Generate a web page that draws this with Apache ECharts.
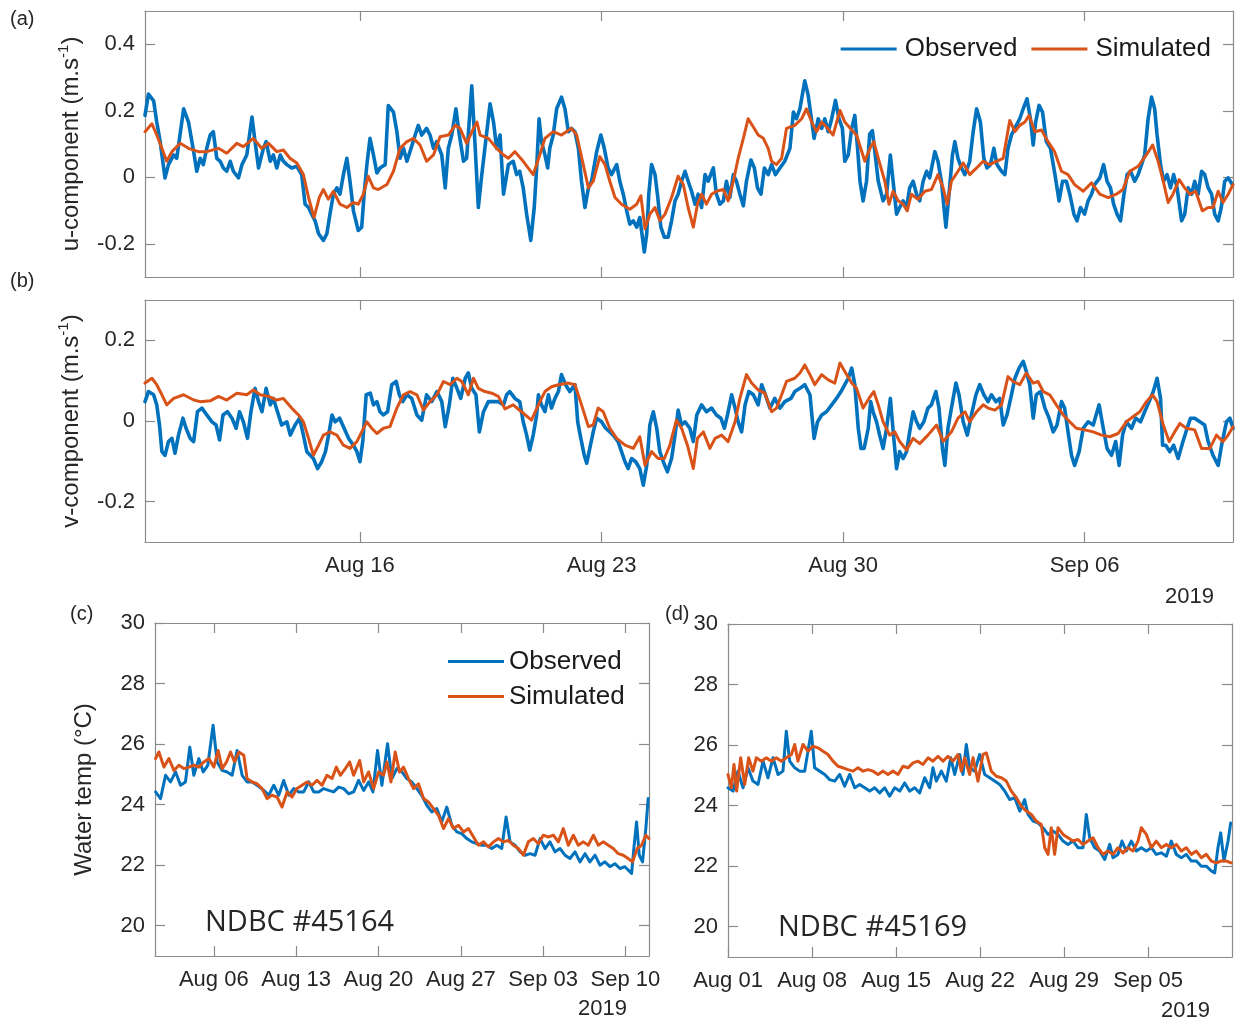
<!DOCTYPE html>
<html>
<head>
<meta charset="utf-8">
<title>Currents and water temperature, observed vs simulated (2019)</title>
<script src="https://cdn.jsdelivr.net/npm/echarts@6/dist/echarts.min.js"></script>
<style>
  html, body { margin: 0; padding: 0; background: #ffffff; }
  #chart { width: 1236px; height: 1024px; }
</style>
</head>
<body>
<div id="chart"></div>
<script>
// Time is expressed in days since 2019-08-01 00:00; each point is [day, value].

// (a) u-component of the current, m/s
const uObserved = [
  [8.77,0.186],[8.87,0.25],[9.02,0.23],[9.11,0.166],[9.21,0.107],[9.35,-0.002],[9.45,0.038],[9.60,0.067],[9.69,0.057],[9.89,0.206],
  [10.03,0.166],[10.18,0.077],[10.27,0.018],[10.37,0.057],[10.46,0.038],[10.56,0.087],[10.66,0.127],[10.75,0.137],[10.85,0.057],[10.95,0.048],
  [11.04,0.028],[11.14,0.018],[11.24,0.048],[11.33,0.018],[11.48,-0.002],[11.58,0.038],[11.72,0.067],[11.87,0.181],[11.96,0.107],[12.06,0.028],
  [12.20,0.087],[12.28,0.107],[12.40,0.048],[12.49,0.067],[12.59,0.028],[12.69,0.067],[12.78,0.048],[12.88,0.038],[13.02,0.028],[13.17,0.033],
  [13.31,0.008],[13.41,-0.081],[13.51,-0.091],[13.60,-0.111],[13.70,-0.131],[13.80,-0.170],[13.94,-0.190],[14.04,-0.170],[14.13,-0.111],[14.23,-0.051],
  [14.33,-0.032],[14.42,-0.051],[14.52,0.008],[14.62,0.057],[14.71,-0.012],[14.81,-0.101],[14.95,-0.160],[15.05,-0.150],[15.12,-0.051],[15.20,0.038],
  [15.29,0.117],[15.39,0.067],[15.49,0.013],[15.58,0.028],[15.73,0.038],[15.82,0.216],[15.97,0.196],[16.07,0.137],[16.16,0.057],[16.26,0.087],
  [16.36,0.048],[16.45,0.077],[16.60,0.127],[16.69,0.156],[16.79,0.127],[16.93,0.147],[17.03,0.127],[17.13,0.087],[17.22,0.107],[17.37,0.067],
  [17.47,-0.032],[17.56,0.087],[17.66,0.127],[17.78,0.206],[17.88,0.127],[18.00,0.048],[18.09,0.057],[18.24,0.275],[18.34,0.087],[18.43,-0.091],
  [18.53,0.008],[18.62,0.087],[18.77,0.221],[18.87,0.166],[18.96,0.087],[19.06,0.127],[19.16,-0.051],[19.30,0.038],[19.44,0.048],[19.54,0.008],
  [19.63,0.018],[19.73,-0.032],[19.83,-0.111],[19.95,-0.190],[20.05,-0.091],[20.12,0.028],[20.19,0.176],[20.26,0.107],[20.36,0.067],[20.44,0.028],
  [20.50,0.087],[20.60,0.127],[20.70,0.206],[20.84,0.241],[20.94,0.206],[21.04,0.137],[21.13,0.147],[21.23,0.137],[21.33,0.087],[21.42,-0.012],
  [21.52,-0.091],[21.62,-0.032],[21.71,-0.012],[21.86,0.077],[21.98,0.127],[22.08,0.087],[22.19,0.028],[22.29,0.008],[22.44,0.038],[22.53,-0.012],
  [22.63,-0.051],[22.73,-0.101],[22.82,-0.141],[22.92,-0.131],[23.02,-0.150],[23.11,-0.121],[23.24,-0.225],[23.31,-0.170],[23.37,-0.051],[23.45,0.038],
  [23.55,0.008],[23.62,-0.051],[23.72,-0.150],[23.82,-0.180],[23.93,-0.180],[24.03,-0.131],[24.13,-0.071],[24.22,-0.051],[24.32,-0.012],[24.42,0.018],
  [24.51,-0.012],[24.61,-0.042],[24.71,-0.081],[24.80,-0.051],[24.90,-0.091],[25.00,0.008],[25.09,-0.012],[25.24,0.028],[25.33,-0.051],[25.43,-0.081],
  [25.53,-0.071],[25.62,-0.012],[25.72,-0.061],[25.82,0.008],[25.91,-0.012],[26.01,-0.051],[26.11,-0.086],[26.20,-0.012],[26.33,0.052],[26.43,0.028],
  [26.52,-0.032],[26.62,-0.051],[26.72,0.028],[26.83,0.008],[26.93,0.038],[27.04,0.008],[27.17,0.028],[27.31,0.048],[27.46,0.087],[27.56,0.196],
  [27.65,0.176],[27.75,0.206],[27.89,0.290],[27.99,0.246],[28.07,0.186],[28.16,0.117],[28.28,0.176],[28.38,0.147],[28.47,0.176],[28.57,0.137],
  [28.67,0.176],[28.78,0.231],[28.88,0.176],[28.98,0.147],[29.05,0.048],[29.15,0.067],[29.25,0.147],[29.34,0.186],[29.42,0.087],[29.49,-0.012],
  [29.58,-0.071],[29.68,-0.012],[29.77,0.130],[29.85,0.140],[29.92,0.077],[30.02,-0.012],[30.16,-0.071],[30.26,-0.051],[30.37,0.067],[30.45,-0.012],
  [30.55,-0.111],[30.64,-0.091],[30.74,-0.071],[30.84,-0.091],[30.93,-0.032],[31.03,-0.012],[31.13,-0.051],[31.22,-0.071],[31.32,-0.012],[31.42,0.018],
  [31.51,-0.002],[31.66,0.077],[31.75,0.048],[31.85,-0.012],[31.98,-0.150],[32.07,-0.051],[32.17,0.067],[32.24,0.107],[32.33,0.057],[32.43,0.028],
  [32.53,0.008],[32.67,0.048],[32.77,0.137],[32.87,0.206],[32.98,0.166],[33.08,0.057],[33.17,0.028],[33.27,0.038],[33.37,0.087],[33.46,0.038],
  [33.59,0.018],[33.69,0.008],[33.78,0.087],[33.88,0.127],[34.02,0.156],[34.12,0.176],[34.22,0.206],[34.33,0.236],[34.43,0.176],[34.51,0.097],
  [34.58,0.166],[34.68,0.216],[34.78,0.196],[34.89,0.107],[35.01,0.087],[35.14,0.008],[35.26,-0.071],[35.36,-0.012],[35.47,-0.012],[35.57,-0.051],
  [35.69,-0.111],[35.78,-0.131],[35.88,-0.091],[36.00,-0.111],[36.10,-0.071],[36.20,-0.051],[36.29,-0.022],[36.44,-0.002],[36.55,0.038],[36.65,-0.012],
  [36.75,-0.032],[36.84,-0.081],[36.94,-0.111],[37.04,-0.131],[37.14,-0.051],[37.23,0.008],[37.33,0.018],[37.45,-0.012],[37.55,0.008],[37.65,0.038],
  [37.74,0.067],[37.84,0.176],[37.94,0.241],[38.03,0.206],[38.10,0.127],[38.20,0.038],[38.29,-0.012],[38.39,0.008],[38.49,-0.032],[38.58,0.008],
  [38.68,-0.032],[38.81,-0.131],[38.90,-0.111],[39.00,-0.032],[39.10,-0.051],[39.19,-0.012],[39.29,-0.051],[39.39,0.018],[39.48,0.008],[39.58,-0.032],
  [39.68,-0.051],[39.77,-0.111],[39.87,-0.131],[39.96,-0.091],[40.06,-0.012],[40.16,-0.002],[40.28,-0.022]
];
const uSimulated = [
  [8.77,0.137],[8.97,0.161],[9.11,0.127],[9.26,0.087],[9.40,0.048],[9.55,0.077],[9.79,0.102],[10.03,0.087],[10.32,0.077],[10.56,0.077],
  [10.90,0.087],[11.14,0.072],[11.43,0.102],[11.62,0.092],[11.91,0.117],[12.15,0.087],[12.35,0.102],[12.59,0.077],[12.78,0.082],[12.97,0.057],
  [13.17,0.043],[13.36,0.008],[13.51,-0.061],[13.67,-0.121],[13.82,-0.061],[13.94,-0.037],[14.08,-0.066],[14.23,-0.042],[14.42,-0.081],[14.62,-0.091],
  [14.81,-0.076],[14.95,-0.081],[15.10,-0.051],[15.24,0.003],[15.39,-0.032],[15.53,-0.037],[15.78,-0.022],[15.97,0.018],[16.16,0.087],[16.36,0.107],
  [16.55,0.117],[16.74,0.097],[16.93,0.048],[17.13,0.067],[17.32,0.122],[17.56,0.127],[17.76,0.156],[17.90,0.147],[18.09,0.102],[18.29,0.147],
  [18.39,0.166],[18.48,0.127],[18.72,0.117],[18.96,0.087],[19.16,0.067],[19.30,0.057],[19.49,0.077],[19.73,0.048],[20.02,0.008],[20.21,0.067],
  [20.36,0.117],[20.60,0.137],[20.84,0.127],[21.13,0.147],[21.28,0.127],[21.47,0.038],[21.62,-0.032],[21.76,-0.012],[21.95,0.062],[22.10,0.038],
  [22.24,-0.012],[22.39,-0.061],[22.58,-0.081],[22.82,-0.096],[23.02,-0.081],[23.14,-0.056],[23.26,-0.155],[23.40,-0.111],[23.55,-0.091],[23.69,-0.131],
  [23.84,-0.111],[24.03,-0.061],[24.22,0.003],[24.37,-0.022],[24.51,-0.091],[24.66,-0.150],[24.78,-0.081],[24.90,-0.051],[25.04,-0.081],[25.19,-0.051],
  [25.33,-0.042],[25.53,-0.037],[25.67,-0.071],[25.82,-0.012],[25.96,0.057],[26.11,0.117],[26.25,0.176],[26.40,0.151],[26.54,0.127],[26.69,0.117],
  [26.83,0.087],[26.93,0.048],[27.07,0.038],[27.22,0.057],[27.36,0.147],[27.60,0.156],[27.80,0.176],[27.94,0.206],[28.09,0.166],[28.23,0.137],
  [28.38,0.166],[28.52,0.151],[28.71,0.127],[28.91,0.201],[29.05,0.166],[29.25,0.142],[29.39,0.127],[29.63,0.048],[29.78,0.087],[29.89,0.107],
  [30.02,0.057],[30.21,-0.012],[30.33,-0.081],[30.45,-0.042],[30.60,-0.071],[30.74,-0.081],[30.86,-0.101],[30.98,-0.051],[31.17,-0.066],[31.37,-0.042],
  [31.56,-0.037],[31.75,0.008],[31.90,-0.032],[32.02,-0.081],[32.14,-0.012],[32.33,0.018],[32.48,0.043],[32.67,0.008],[32.87,0.028],[33.06,0.048],
  [33.25,0.038],[33.44,0.048],[33.64,0.057],[33.83,0.171],[33.98,0.137],[34.12,0.156],[34.27,0.166],[34.39,0.186],[34.56,0.137],[34.75,0.142],
  [34.94,0.107],[35.13,0.077],[35.33,0.018],[35.52,0.008],[35.71,-0.022],[35.96,-0.042],[36.20,-0.017],[36.44,-0.051],[36.68,-0.061],[36.92,-0.051],
  [37.11,-0.037],[37.31,0.018],[37.55,0.033],[37.79,0.067],[37.97,0.097],[38.13,0.048],[38.28,-0.012],[38.42,-0.076],[38.56,-0.051],[38.74,-0.007],
  [38.90,-0.032],[39.05,-0.051],[39.22,-0.042],[39.41,-0.101],[39.58,-0.091],[39.72,-0.091],[39.87,-0.042],[40.01,-0.076],[40.16,-0.051],[40.30,-0.022]
];

// (b) v-component of the current, m/s
const vObserved = [
  [8.77,0.048],[8.87,0.073],[9.02,0.065],[9.11,0.040],[9.19,-0.010],[9.26,-0.076],[9.35,-0.085],[9.45,-0.051],[9.55,-0.043],[9.64,-0.080],
  [9.74,-0.035],[9.87,0.007],[9.96,-0.018],[10.08,-0.043],[10.18,-0.051],[10.29,0.023],[10.42,0.032],[10.56,0.015],[10.71,-0.002],[10.83,-0.010],
  [10.93,-0.047],[11.03,0.015],[11.16,0.023],[11.29,0.007],[11.41,-0.018],[11.51,0.023],[11.62,-0.002],[11.74,-0.043],[11.84,0.023],[11.96,0.081],
  [12.06,0.048],[12.16,0.023],[12.28,0.081],[12.40,0.040],[12.49,0.056],[12.61,0.023],[12.73,-0.010],[12.88,-0.002],[12.98,-0.035],[13.12,-0.010],
  [13.25,0.007],[13.36,-0.035],[13.46,-0.076],[13.56,-0.085],[13.65,-0.093],[13.77,-0.118],[13.89,-0.101],[14.00,-0.076],[14.09,-0.035],[14.19,0.015],
  [14.28,-0.002],[14.41,0.007],[14.54,-0.018],[14.67,-0.043],[14.81,-0.060],[14.91,-0.076],[15.00,-0.101],[15.08,-0.051],[15.18,0.065],[15.30,0.069],
  [15.39,0.040],[15.49,0.048],[15.58,0.023],[15.68,0.015],[15.80,0.023],[15.92,0.090],[16.05,0.098],[16.14,0.065],[16.24,0.048],[16.36,0.065],
  [16.50,0.056],[16.65,0.015],[16.79,0.002],[16.93,0.065],[17.08,0.048],[17.23,0.073],[17.37,0.048],[17.47,-0.014],[17.59,0.040],[17.69,0.106],
  [17.81,0.081],[17.92,0.056],[18.05,0.106],[18.14,0.119],[18.24,0.081],[18.36,0.065],[18.46,-0.027],[18.58,0.023],[18.72,0.048],[18.87,0.048],
  [19.01,0.048],[19.16,0.040],[19.25,0.065],[19.34,0.073],[19.49,0.056],[19.63,0.048],[19.73,-0.002],[19.83,-0.035],[19.92,-0.072],[20.02,-0.035],
  [20.12,0.015],[20.17,0.065],[20.26,0.040],[20.36,0.023],[20.46,0.065],[20.55,0.032],[20.65,0.056],[20.75,0.073],[20.84,0.115],[20.96,0.090],
  [21.08,0.073],[21.23,0.090],[21.31,-0.002],[21.40,-0.043],[21.50,-0.085],[21.57,-0.105],[21.66,-0.068],[21.76,-0.027],[21.86,0.007],[22.00,-0.002],
  [22.12,-0.018],[22.24,-0.027],[22.34,-0.035],[22.48,-0.051],[22.58,-0.076],[22.68,-0.101],[22.77,-0.118],[22.87,-0.093],[22.99,-0.101],[23.11,-0.118],
  [23.21,-0.159],[23.31,-0.110],[23.40,-0.010],[23.50,0.023],[23.60,-0.018],[23.69,-0.076],[23.79,-0.101],[23.91,-0.126],[24.03,-0.093],[24.13,-0.035],
  [24.22,0.027],[24.32,-0.010],[24.42,-0.002],[24.56,-0.018],[24.66,-0.051],[24.76,0.015],[24.90,0.040],[25.04,0.023],[25.19,0.032],[25.33,0.015],
  [25.46,0.007],[25.56,-0.018],[25.65,0.015],[25.77,0.065],[25.87,0.032],[25.96,-0.002],[26.06,-0.027],[26.16,0.040],[26.27,0.073],[26.40,0.065],
  [26.54,0.040],[26.64,0.090],[26.75,0.065],[26.88,0.032],[27.02,0.056],[27.17,0.032],[27.31,0.048],[27.49,0.056],[27.60,0.073],[27.75,0.081],
  [27.89,0.090],[28.04,0.065],[28.16,-0.043],[28.26,-0.002],[28.38,0.015],[28.52,0.023],[28.67,0.040],[28.81,0.056],[28.94,0.073],[29.05,0.090],
  [29.15,0.106],[29.25,0.131],[29.34,0.090],[29.44,-0.018],[29.52,-0.068],[29.61,-0.068],[29.73,-0.018],[29.80,0.048],[29.87,0.023],[29.97,-0.002],
  [30.06,-0.035],[30.16,-0.068],[30.26,-0.018],[30.37,0.056],[30.47,-0.043],[30.55,-0.118],[30.64,-0.076],[30.74,-0.093],[30.84,-0.076],[30.93,-0.027],
  [31.03,0.023],[31.13,-0.002],[31.22,-0.018],[31.34,-0.002],[31.46,0.032],[31.56,0.040],[31.69,0.073],[31.78,0.032],[31.88,-0.068],[31.95,-0.110],
  [32.04,-0.018],[32.14,0.032],[32.27,0.094],[32.36,0.065],[32.48,-0.002],[32.60,-0.035],[32.72,0.015],[32.85,0.065],[32.96,0.090],[33.08,0.065],
  [33.20,0.048],[33.30,0.065],[33.43,0.048],[33.54,0.056],[33.64,-0.010],[33.75,0.015],[33.88,0.065],[33.98,0.106],[34.10,0.131],[34.22,0.148],
  [34.31,0.123],[34.41,0.090],[34.51,0.007],[34.60,0.065],[34.72,0.073],[34.85,0.032],[34.97,0.007],[35.09,-0.027],[35.20,-0.010],[35.33,0.048],
  [35.42,0.032],[35.52,-0.027],[35.62,-0.085],[35.71,-0.110],[35.84,-0.076],[35.96,-0.018],[36.10,-0.002],[36.25,-0.010],[36.42,0.040],[36.54,-0.018],
  [36.65,-0.068],[36.78,-0.085],[36.90,-0.051],[37.00,-0.110],[37.10,-0.035],[37.21,-0.002],[37.36,-0.018],[37.48,0.007],[37.62,-0.002],[37.74,0.023],
  [37.87,0.048],[37.99,0.073],[38.10,0.106],[38.20,0.056],[38.26,-0.060],[38.35,-0.060],[38.47,-0.076],[38.58,-0.060],[38.71,-0.093],[38.85,-0.051],
  [38.97,-0.018],[39.07,0.007],[39.19,0.007],[39.34,-0.002],[39.48,-0.010],[39.58,-0.051],[39.72,-0.085],[39.87,-0.110],[39.97,-0.060],[40.11,-0.002],
  [40.21,0.007],[40.30,-0.018]
];
const vSimulated = [
  [8.77,0.094],[8.97,0.106],[9.11,0.090],[9.26,0.065],[9.40,0.040],[9.60,0.056],[9.89,0.065],[10.18,0.052],[10.37,0.048],[10.66,0.050],
  [10.90,0.061],[11.14,0.052],[11.43,0.069],[11.72,0.065],[11.91,0.077],[12.11,0.065],[12.35,0.061],[12.59,0.052],[12.78,0.056],[13.02,0.032],
  [13.22,0.015],[13.36,-0.002],[13.51,-0.043],[13.65,-0.085],[13.80,-0.060],[13.94,-0.035],[14.13,-0.027],[14.33,-0.035],[14.52,-0.060],[14.71,-0.068],
  [14.91,-0.051],[15.05,-0.027],[15.20,-0.002],[15.34,-0.018],[15.49,-0.031],[15.68,-0.018],[15.87,-0.014],[16.07,0.032],[16.26,0.065],[16.45,0.073],
  [16.65,0.065],[16.84,0.027],[17.03,0.048],[17.23,0.065],[17.42,0.098],[17.61,0.090],[17.81,0.106],[17.95,0.098],[18.14,0.065],[18.29,0.106],
  [18.43,0.081],[18.62,0.073],[18.82,0.069],[19.01,0.061],[19.20,0.030],[19.44,0.040],[19.68,0.023],[19.97,0.002],[20.17,0.040],[20.36,0.073],
  [20.55,0.085],[20.75,0.090],[21.04,0.094],[21.23,0.090],[21.42,0.040],[21.62,-0.014],[21.76,-0.010],[21.90,0.032],[22.05,0.023],[22.24,-0.018],
  [22.44,-0.043],[22.68,-0.060],[22.92,-0.068],[23.11,-0.039],[23.26,-0.110],[23.45,-0.076],[23.64,-0.093],[23.82,-0.093],[23.98,-0.060],[24.17,0.002],
  [24.32,-0.018],[24.49,-0.060],[24.66,-0.118],[24.78,-0.043],[24.95,-0.027],[25.14,-0.068],[25.29,-0.043],[25.48,-0.035],[25.67,-0.051],[25.87,-0.002],
  [26.01,0.056],[26.20,0.115],[26.35,0.094],[26.54,0.077],[26.73,0.069],[26.93,0.023],[27.07,0.032],[27.22,0.065],[27.36,0.098],[27.60,0.106],
  [27.75,0.119],[27.89,0.139],[28.04,0.115],[28.18,0.090],[28.38,0.115],[28.57,0.102],[28.76,0.094],[28.91,0.144],[29.05,0.123],[29.25,0.094],
  [29.39,0.081],[29.58,0.032],[29.75,0.056],[29.89,0.073],[30.02,0.040],[30.16,-0.002],[30.35,-0.035],[30.50,-0.027],[30.64,-0.051],[30.84,-0.072],
  [31.03,-0.043],[31.22,-0.056],[31.46,-0.035],[31.71,-0.010],[31.90,-0.051],[32.14,-0.027],[32.33,0.007],[32.53,0.023],[32.67,-0.002],[32.87,0.023],
  [33.06,0.040],[33.20,0.032],[33.40,0.027],[33.59,0.040],[33.78,0.110],[33.93,0.098],[34.12,0.090],[34.31,0.119],[34.51,0.094],[34.65,0.098],
  [34.80,0.073],[34.99,0.065],[35.18,0.040],[35.38,0.015],[35.57,-0.002],[35.76,-0.018],[36.00,-0.022],[36.25,-0.027],[36.49,-0.035],[36.73,-0.039],
  [36.97,-0.031],[37.21,-0.002],[37.41,0.011],[37.60,0.023],[37.79,0.048],[37.97,0.065],[38.10,0.048],[38.28,-0.010],[38.45,-0.051],[38.61,-0.027],
  [38.76,-0.006],[38.95,-0.018],[39.19,-0.022],[39.39,-0.068],[39.63,-0.068],[39.82,-0.035],[40.01,-0.051],[40.16,-0.035],[40.30,-0.014]
];

// (c) water temperature at NDBC #45164, deg C
const tempObserved45164 = [
  [0.05,24.42],[0.47,24.20],[0.90,24.97],[1.32,24.75],[1.75,25.08],[2.17,24.64],[2.59,24.75],[2.96,25.90],[3.30,24.97],[3.73,25.52],
  [4.10,25.08],[4.49,25.30],[4.94,26.62],[5.28,25.41],[5.71,25.13],[6.13,25.08],[6.56,24.97],[6.98,25.79],[7.41,24.97],[7.83,24.75],
  [8.25,24.75],[8.68,24.64],[9.25,24.47],[9.67,24.31],[10.10,24.64],[10.52,24.31],[10.94,24.80],[11.37,24.31],[11.79,24.53],[12.22,24.42],
  [12.64,24.42],[13.07,24.75],[13.49,24.42],[13.92,24.42],[14.34,24.53],[14.77,24.47],[15.19,24.42],[15.61,24.58],[16.04,24.53],[16.46,24.36],
  [16.89,24.42],[17.31,24.80],[17.74,24.47],[18.16,24.75],[18.53,24.42],[18.92,25.79],[19.29,24.64],[19.77,26.01],[20.14,24.86],[20.56,25.19],
  [20.99,25.08],[21.41,24.86],[21.83,24.75],[22.26,24.53],[22.68,24.31],[23.11,23.98],[23.53,23.76],[23.96,23.87],[24.38,23.43],[24.81,23.92],
  [25.23,23.32],[25.66,23.10],[26.08,23.04],[26.51,22.88],[26.93,22.77],[27.36,22.71],[27.78,22.66],[28.21,22.66],[28.63,22.55],[29.06,22.66],
  [29.48,22.55],[29.85,23.59],[30.19,22.77],[30.61,22.66],[31.04,22.44],[31.46,22.33],[31.89,22.38],[32.31,22.33],[32.74,22.88],[33.16,22.55],
  [33.58,22.77],[34.01,22.44],[34.43,22.55],[34.86,22.33],[35.28,22.22],[35.71,22.44],[36.13,22.11],[36.56,22.38],[36.98,22.11],[37.41,22.33],
  [37.83,22.00],[38.25,22.11],[38.68,21.95],[39.10,22.05],[39.53,21.89],[39.95,21.95],[40.52,21.73],[40.71,22.55],[40.94,23.43],[41.17,22.33],
  [41.45,22.11],[41.73,23.21],[41.93,24.20]
];
const tempSimulated45164 = [
  [0.05,25.52],[0.33,25.74],[0.76,25.24],[1.18,25.52],[1.61,25.13],[2.03,25.30],[2.45,25.19],[2.88,25.24],[3.30,25.30],[3.73,25.24],
  [4.15,25.41],[4.58,25.52],[5.00,25.24],[5.37,25.79],[5.71,25.19],[6.08,25.41],[6.42,25.74],[6.76,25.41],[7.12,25.74],[7.55,25.63],
  [7.83,24.86],[8.25,24.75],[8.68,24.69],[9.10,24.53],[9.53,24.20],[9.95,24.31],[10.38,24.25],[10.80,23.92],[11.23,24.42],[11.65,24.25],
  [12.07,24.53],[12.50,24.64],[12.93,24.75],[13.35,24.64],[13.77,24.80],[14.20,24.64],[14.62,24.97],[15.05,24.86],[15.42,25.24],[15.76,24.97],
  [16.18,25.19],[16.55,25.41],[16.89,24.97],[17.40,25.46],[17.74,24.75],[18.16,25.08],[18.59,24.53],[19.01,25.08],[19.43,24.97],[19.72,25.41],
  [20.06,24.75],[20.42,25.74],[20.79,25.08],[21.13,25.24],[21.55,24.86],[21.98,24.53],[22.40,24.69],[22.83,24.20],[23.25,24.09],[23.68,23.87],
  [24.10,23.65],[24.53,23.21],[24.95,23.54],[25.38,23.21],[25.80,23.32],[26.23,23.10],[26.65,23.21],[27.08,22.93],[27.50,22.66],[27.93,22.77],
  [28.35,22.60],[28.78,22.77],[29.20,22.88],[29.62,22.77],[30.05,22.82],[30.47,22.66],[30.89,22.55],[31.32,22.33],[31.74,22.77],[32.17,22.88],
  [32.59,22.71],[33.01,22.99],[33.44,22.93],[33.87,22.99],[34.29,22.77],[34.72,23.21],[35.14,22.66],[35.57,22.99],[35.99,22.66],[36.42,22.77],
  [36.84,22.66],[37.27,22.99],[37.69,22.66],[38.11,22.77],[38.54,22.66],[38.96,22.55],[39.39,22.38],[39.81,22.33],[40.23,22.22],[40.60,22.11],
  [41.00,22.55],[41.37,22.66],[41.73,22.99],[41.99,22.88]
];

// (d) water temperature at NDBC #45169, deg C
const tempObserved45169 = [
  [0.00,24.59],[0.42,24.48],[0.83,25.14],[1.25,24.59],[1.67,25.25],[2.08,24.81],[2.50,24.70],[2.92,25.47],[3.33,24.92],[3.75,25.58],
  [4.17,25.03],[4.58,25.14],[4.86,26.46],[5.14,25.47],[5.56,25.25],[5.97,25.14],[6.39,25.14],[6.94,26.46],[7.22,25.25],[7.64,25.14],
  [8.06,25.03],[8.47,24.86],[8.89,24.81],[9.31,25.03],[9.72,24.64],[10.14,25.03],[10.56,24.59],[10.97,24.70],[11.39,24.59],[11.81,24.48],
  [12.22,24.59],[12.64,24.42],[13.06,24.59],[13.47,24.31],[13.89,24.59],[14.31,24.48],[14.72,24.75],[15.14,24.48],[15.56,24.59],[15.97,24.42],
  [16.39,24.92],[16.81,24.59],[17.08,25.25],[17.36,24.81],[17.78,25.14],[18.19,24.81],[18.56,25.58],[18.89,25.03],[19.31,25.69],[19.58,25.03],
  [19.86,26.02],[20.14,25.25],[20.56,25.14],[20.97,25.69],[21.39,25.03],[21.81,24.92],[22.22,24.81],[22.64,24.70],[23.06,24.48],[23.47,24.20],
  [23.89,24.26],[24.31,23.82],[24.72,24.20],[25.00,23.71],[25.42,23.49],[25.83,23.43],[26.25,23.27],[26.67,23.05],[27.08,23.16],[27.50,23.05],
  [27.92,22.83],[28.33,22.72],[28.75,22.83],[29.17,22.61],[29.58,22.61],[29.86,23.71],[30.14,22.94],[30.56,22.61],[30.97,22.50],[31.39,22.22],
  [31.81,22.72],[32.08,22.28],[32.50,22.39],[32.83,22.83],[33.19,22.50],[33.61,22.83],[34.03,22.50],[34.44,22.61],[34.86,22.50],[35.28,22.61],
  [35.69,22.39],[36.11,22.44],[36.53,22.33],[36.94,22.83],[37.36,22.39],[37.78,22.28],[38.19,22.39],[38.61,22.17],[39.03,22.17],[39.44,22.00],
  [39.86,22.00],[40.28,21.84],[40.56,21.78],[40.83,22.61],[41.06,23.10],[41.33,22.17],[41.67,22.83],[41.89,23.43]
];
const tempSimulated45169 = [
  [0.00,25.03],[0.28,24.59],[0.50,25.36],[0.72,24.48],[1.06,25.58],[1.39,24.70],[1.72,25.58],[2.08,25.14],[2.36,25.58],[2.78,25.47],
  [3.19,25.58],[3.61,25.47],[4.03,25.58],[4.44,25.47],[4.86,25.58],[5.28,25.69],[5.56,26.02],[5.83,25.47],[6.25,26.02],[6.67,25.80],
  [7.08,25.96],[7.50,25.91],[7.92,25.80],[8.33,25.69],[8.75,25.47],[9.17,25.30],[9.58,25.25],[10.00,25.19],[10.42,25.14],[10.83,25.25],
  [11.25,25.14],[11.67,25.19],[12.08,25.14],[12.50,25.03],[12.92,25.14],[13.33,25.03],[13.75,25.14],[14.17,25.03],[14.58,25.30],[15.00,25.25],
  [15.42,25.41],[15.83,25.47],[16.25,25.36],[16.67,25.58],[17.08,25.47],[17.50,25.63],[17.92,25.47],[18.33,25.63],[18.75,25.47],[19.17,25.69],
  [19.44,25.14],[19.72,25.58],[20.14,25.03],[20.42,25.58],[20.83,24.81],[21.25,25.69],[21.53,25.74],[21.94,25.14],[22.36,24.97],[22.78,24.92],
  [23.19,24.81],[23.61,24.48],[24.03,24.26],[24.44,23.98],[24.86,23.82],[25.28,23.71],[25.69,23.49],[26.11,23.38],[26.39,22.61],[26.67,22.39],
  [26.94,23.27],[27.22,22.39],[27.50,23.27],[27.92,23.05],[28.33,22.94],[28.75,22.83],[29.17,22.88],[29.58,22.72],[30.00,22.83],[30.42,22.94],
  [30.83,22.61],[31.25,22.39],[31.67,22.50],[32.08,22.39],[32.50,22.61],[32.92,22.44],[33.33,22.61],[33.75,22.50],[34.17,22.83],[34.44,23.27],
  [34.86,23.05],[35.28,22.61],[35.69,22.83],[36.11,22.61],[36.53,22.72],[36.94,22.61],[37.36,22.72],[37.78,22.50],[38.19,22.61],[38.61,22.39],
  [39.03,22.50],[39.44,22.28],[39.86,22.39],[40.28,22.17],[40.69,22.11],[41.11,22.17],[41.53,22.17],[41.94,22.11]
];

// Axis ticks and their labels
const currentTickDays = [15, 22, 29, 36];
const currentTickLabels = ['Aug 16', 'Aug 23', 'Aug 30', 'Sep 06'];
const tempTickDays45164 = [5, 12, 19, 26, 33, 40];
const tempTickLabels45164 = ['Aug 06', 'Aug 13', 'Aug 20', 'Aug 27', 'Sep 03', 'Sep 10'];
const tempTickDays45169 = [0, 7, 14, 21, 28, 35];
const tempTickLabels45169 = ['Aug 01', 'Aug 08', 'Aug 15', 'Aug 22', 'Aug 29', 'Sep 05'];
const uTicks = [-0.2, 0, 0.2, 0.4];
const uTickLabels = ['-0.2', '0', '0.2', '0.4'];
const vTicks = [-0.2, 0, 0.2];
const vTickLabels = ['-0.2', '0', '0.2'];
const tempTicks = [20, 22, 24, 26, 28, 30];
const tempTickLabels = ['20', '22', '24', '26', '28', '30'];

const seriesNames = ['Observed', 'Simulated'];
const yearLabel = '2019';
const stationNames = ['NDBC #45164', 'NDBC #45169'];
const panelTags = ['(a)', '(b)', '(c)', '(d)'];

// ---------------------------------------------------------------------------
const FONT = '"Liberation Sans", Arial, Helvetica, sans-serif';
const FRAME = '#8a8a8a';
const INK = '#262626';
const BLUE = '#0072BD';
const ORANGE = '#D95319';

function labelFor(ticks, labels) {
  return function (v) {
    let best = 0;
    for (let i = 1; i < ticks.length; i++) {
      if (Math.abs(ticks[i] - v) < Math.abs(ticks[best] - v)) best = i;
    }
    return labels[best];
  };
}

function axisPair(kind, gridIndex, range, ticks, labels, nameOpts) {
  const positions = kind === 'x' ? ['bottom', 'top'] : ['left', 'right'];
  return positions.map(function (pos, k) {
    const ax = {
      type: 'value',
      gridIndex: gridIndex,
      position: pos,
      min: range[0],
      max: range[1],
      axisLine: { show: true, onZero: false, lineStyle: { color: FRAME, width: 1.2 } },
      axisTick: { show: true, inside: true, length: 10, customValues: ticks.slice(), lineStyle: { color: FRAME, width: 1.2 } },
      splitLine: { show: false },
      axisLabel: { show: false }
    };
    if (k === 0 && labels) {
      ax.axisLabel = {
        show: true,
        customValues: ticks.slice(),
        formatter: labelFor(ticks, labels),
        color: INK,
        fontSize: 22,
        fontFamily: FONT,
        margin: kind === 'x' ? 13 : 10
      };
    }
    if (k === 0 && nameOpts) Object.assign(ax, nameOpts);
    return ax;
  });
}

function yName(text, gap) {
  return {
    name: text,
    nameLocation: 'middle',
    nameGap: gap,
    nameRotate: 90,
    nameTextStyle: {
      color: INK,
      fontSize: 24,
      fontFamily: FONT,
      lineHeight: 30,
      rich: {
        sup: { fontSize: 15, lineHeight: 30, verticalAlign: 'top', fontFamily: FONT, color: INK, padding: [0, 0, 9, 0] }
      }
    }
  };
}

function line(name, data, gridIndex, color, width, z) {
  return {
    type: 'line',
    name: name,
    data: data,
    xAxisIndex: gridIndex * 2,
    yAxisIndex: gridIndex * 2,
    showSymbol: false,
    symbol: 'none',
    smooth: false,
    clip: true,
    z: z,
    lineStyle: { color: color, width: width, join: 'round', cap: 'round' },
    itemStyle: { color: color },
    emphasis: { disabled: true }
  };
}

function textEl(text, left, top, size, family) {
  return {
    type: 'text',
    left: left,
    top: top,
    style: { text: text, fill: INK, font: size + 'px ' + (family || FONT) }
  };
}

const currentRange = [8.77, 40.30];
const tempRange = [0, 42];

const xAxes = [].concat(
  axisPair('x', 0, currentRange, currentTickDays, null),
  axisPair('x', 1, currentRange, currentTickDays, currentTickLabels),
  axisPair('x', 2, tempRange, tempTickDays45164, tempTickLabels45164),
  axisPair('x', 3, tempRange, tempTickDays45169, tempTickLabels45169)
);
const yAxes = [].concat(
  axisPair('y', 0, [-0.3, 0.5], uTicks, uTickLabels, yName('u-component (m.s{sup|-1})', 54)),
  axisPair('y', 1, [-0.3, 0.3], vTicks, vTickLabels, yName('v-component (m.s{sup|-1})', 54)),
  axisPair('y', 2, [19, 30], tempTicks, tempTickLabels, yName('Water temp (°C)', 56)),
  axisPair('y', 3, [19, 30], tempTicks, tempTickLabels, null)
);

const legendText = { color: '#1a1a1a', fontSize: 26, fontFamily: FONT, padding: [0, 0, 0, 3] };

const option = {
  animation: false,
  backgroundColor: '#ffffff',
  grid: [
    { left: 145, top: 11, width: 1088, height: 266, outerBoundsMode: 'none', containLabel: false },
    { left: 145, top: 300, width: 1088, height: 242, outerBoundsMode: 'none', containLabel: false },
    { left: 155, top: 623, width: 494, height: 333, outerBoundsMode: 'none', containLabel: false },
    { left: 728, top: 624, width: 504, height: 333, outerBoundsMode: 'none', containLabel: false }
  ],
  xAxis: xAxes,
  yAxis: yAxes,
  legend: [
    {
      orient: 'horizontal', right: 20, top: 31,
      data: seriesNames, icon: 'rect', itemWidth: 56, itemHeight: 3, itemGap: 14,
      selectedMode: false, textStyle: legendText
    },
    {
      orient: 'vertical', left: 443, top: 642,
      data: seriesNames, icon: 'rect', itemWidth: 56, itemHeight: 3, itemGap: 6,
      selectedMode: false, textStyle: Object.assign({}, legendText, { lineHeight: 29, padding: [0, 0, 0, 0] })
    }
  ],
  series: [
    line(seriesNames[0], uObserved, 0, BLUE, 3.6, 2),
    line(seriesNames[1], uSimulated, 0, ORANGE, 3, 3),
    line(seriesNames[0], vObserved, 1, BLUE, 3.6, 2),
    line(seriesNames[1], vSimulated, 1, ORANGE, 3, 3),
    line(seriesNames[0], tempObserved45164, 2, BLUE, 3, 2),
    line(seriesNames[1], tempSimulated45164, 2, ORANGE, 3, 3),
    line(seriesNames[0], tempObserved45169, 3, BLUE, 3, 2),
    line(seriesNames[1], tempSimulated45169, 3, ORANGE, 3, 3)
  ],
  graphic: [
    textEl(panelTags[0], 10, 9, 20),
    textEl(panelTags[1], 10, 271, 20),
    textEl(panelTags[2], 70, 604, 20),
    textEl(panelTags[3], 665, 604, 20),
    textEl(yearLabel, 1165, 586, 22),
    textEl(yearLabel, 578, 998, 22),
    textEl(yearLabel, 1161, 1000, 22),
    textEl(stationNames[0], 205, 908, 29, '"Open Sans", "Noto Sans", sans-serif'),
    textEl(stationNames[1], 778, 913, 29, '"Open Sans", "Noto Sans", sans-serif')
  ]
};

const chart = echarts.init(document.getElementById('chart'), null, { renderer: 'canvas' });
chart.setOption(option);
</script>
</body>
</html>
